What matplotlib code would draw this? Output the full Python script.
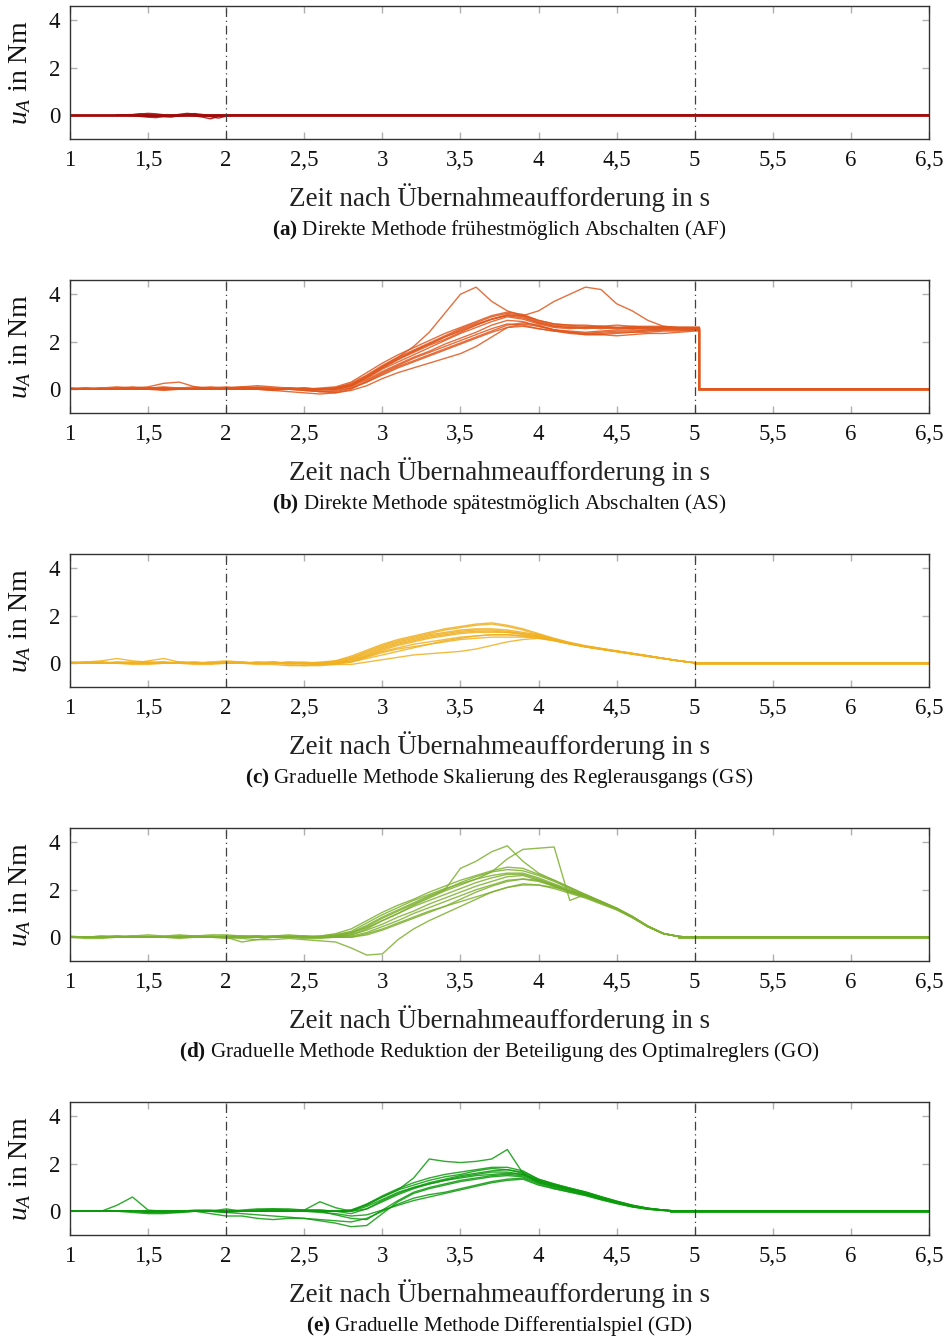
import numpy as np
import matplotlib
matplotlib.use("Agg")
import matplotlib.pyplot as plt
from matplotlib.ticker import FuncFormatter

plt.rcParams['font.family'] = ['Liberation Serif', 'DejaVu Serif']
plt.rcParams['mathtext.fontset'] = 'custom'
plt.rcParams['mathtext.rm'] = 'Liberation Serif'
plt.rcParams['mathtext.it'] = 'Liberation Serif:italic'
plt.rcParams['mathtext.bf'] = 'Liberation Serif:bold'

# time grid of the sampled runs (s)
t_grid = np.round(np.arange(1.0, 5.01, 0.1), 2)
t_af = np.round(np.arange(1.30, 2.051, 0.05), 2)
t_end = 6.5
t_markers = [2.0, 5.0]  # takeover request window

captions = [
    r"$\mathbf{(a)}$ Direkte Methode frühestmöglich Abschalten (AF)",
    r"$\mathbf{(b)}$ Direkte Methode spätestmöglich Abschalten (AS)",
    r"$\mathbf{(c)}$ Graduelle Methode Skalierung des Reglerausgangs (GS)",
    r"$\mathbf{(d)}$ Graduelle Methode Reduktion der Beteiligung des Optimalreglers (GO)",
    r"$\mathbf{(e)}$ Graduelle Methode Differentialspiel (GD)",
]
colors = ['#A00A0A', '#E0561C', '#F0B020', '#7DB02E', '#0A9A0A']
t_off = [2.05, 5.03, 5.0, 5.0, 5.0]
zero_from = [1.0, 5.03, 5.0, 4.9, 4.85]

# (a) AF
runs_af = [
    [0, 0, 0.02, 0.05, 0.08, 0.06, 0.02, 0, 0.02, 0.05, 0.07, 0.03, 0, 0.02, 0, 0],
    [0, 0, -0.02, -0.05, -0.08, -0.1, -0.05, -0.06, -0.03, 0, 0.03, 0.0, -0.06, -0.12, -0.04, 0],
    [0, 0.02, 0.03, 0.06, 0.03, -0.02, -0.04, -0.02, 0.04, 0.08, 0.05, -0.02, -0.05, -0.02, 0, 0],
    [0, 0, 0, -0.03, -0.05, -0.04, -0.06, -0.07, -0.02, 0.02, -0.03, -0.08, -0.15, -0.05, 0, 0],
]

# (b) AS
runs_as = [
    [0.0, 0.0, 0.05, 0.1, 0.05, 0.0, 0.05, 0.0, 0.05, 0.1,
     0.05, 0.05, 0.0, 0.0, 0.05, 0.0, 0.0, 0.0, 0.15, 0.45,
     0.85, 1.15, 1.45, 1.75, 2.05, 2.35, 2.6, 2.85, 3.05, 2.95,
     2.75, 2.6, 2.55, 2.6, 2.55, 2.6, 2.55, 2.6, 2.6, 2.55, 2.55],
    [0.05, 0.0, 0.0, 0.05, 0.1, 0.05, 0.0, 0.05, 0.1, 0.05,
     0.0, 0.05, 0.1, 0.05, 0.0, 0.05, 0.0, 0.05, 0.25, 0.6,
     1.0, 1.35, 1.65, 1.95, 2.25, 2.55, 2.8, 3.05, 3.2, 3.1,
     2.85, 2.7, 2.65, 2.6, 2.65, 2.6, 2.65, 2.6, 2.6, 2.6, 2.6],
    [0.0, 0.05, 0.0, 0.0, 0.05, 0.0, 0.0, 0.0, 0.05, 0.0,
     0.05, 0.0, 0.0, -0.05, 0.0, -0.05, -0.1, -0.05, 0.05, 0.3,
     0.65, 0.95, 1.2, 1.45, 1.7, 1.95, 2.2, 2.45, 2.7, 2.8,
     2.7, 2.5, 2.4, 2.35, 2.35, 2.4, 2.4, 2.45, 2.5, 2.5, 2.5],
    [0.0, 0.0, 0.05, 0.0, 0.0, 0.05, 0.0, 0.05, 0.0, 0.05,
     0.1, 0.05, 0.0, 0.0, 0.05, 0.0, 0.0, 0.05, 0.2, 0.55,
     0.95, 1.35, 1.8, 2.4, 3.2, 4.0, 4.3, 3.7, 3.3, 3.1,
     2.9, 2.75, 2.7, 2.65, 2.65, 2.6, 2.6, 2.55, 2.6, 2.55, 2.55],
    [0.0, 0.0, 0.0, 0.05, 0.0, 0.0, 0.05, 0.0, 0.0, 0.0,
     0.05, 0.0, 0.05, 0.0, 0.0, 0.05, 0.0, 0.0, 0.15, 0.5,
     0.9, 1.25, 1.6, 1.9, 2.2, 2.5, 2.75, 2.95, 3.1, 3.1,
     3.3, 3.7, 4.0, 4.3, 4.2, 3.6, 3.3, 2.9, 2.65, 2.6, 2.6],
    [0.0, 0.0, 0.0, 0.05, 0.0, 0.0, -0.05, 0.0, 0.0, 0.05,
     0.0, 0.0, 0.0, -0.05, -0.1, -0.15, -0.2, -0.15, -0.05, 0.15,
     0.45, 0.7, 0.9, 1.1, 1.3, 1.5, 1.8, 2.2, 2.6, 2.75,
     2.65, 2.5, 2.4, 2.3, 2.3, 2.35, 2.4, 2.4, 2.45, 2.45, 2.5],
    [0.0, 0.05, 0.05, 0.0, 0.05, 0.1, 0.25, 0.3, 0.1, 0.0,
     0.05, 0.1, 0.05, 0.0, 0.05, 0.05, 0.0, 0.05, 0.15, 0.5,
     0.9, 1.25, 1.55, 1.85, 2.1, 2.4, 2.7, 2.95, 3.1, 3.0,
     2.8, 2.65, 2.6, 2.55, 2.6, 2.6, 2.55, 2.6, 2.55, 2.6, 2.6],
    [0.0, 0.0, 0.0, 0.0, 0.05, 0.0, 0.05, 0.0, 0.0, 0.05,
     0.0, 0.0, 0.05, 0.0, 0.0, 0.0, -0.05, 0.0, 0.1, 0.4,
     0.75, 1.05, 1.35, 1.6, 1.9, 2.15, 2.4, 2.7, 2.9, 2.85,
     2.65, 2.5, 2.45, 2.4, 2.45, 2.5, 2.5, 2.5, 2.55, 2.55, 2.55],
    [0.05, 0.05, 0.0, 0.0, 0.0, 0.05, 0.1, 0.05, 0.0, 0.0,
     0.05, 0.1, 0.15, 0.1, 0.05, 0.0, 0.05, 0.1, 0.3, 0.7,
     1.1, 1.45, 1.75, 2.05, 2.35, 2.6, 2.85, 3.1, 3.25, 3.15,
     2.9, 2.75, 2.7, 2.7, 2.65, 2.7, 2.65, 2.65, 2.65, 2.6, 2.6],
    [0.0, 0.0, 0.0, 0.0, 0.0, 0.0, 0.0, 0.0, 0.0, 0.0,
     0.0, 0.0, 0.0, 0.0, 0.0, 0.0, -0.1, -0.15, 0.0, 0.35,
     0.7, 1.0, 1.3, 1.55, 1.8, 2.05, 2.3, 2.55, 2.75, 2.7,
     2.55, 2.45, 2.35, 2.3, 2.3, 2.25, 2.3, 2.35, 2.35, 2.4, 2.45],
    [0.0, 0.0, 0.0, 0.0, 0.0, 0.05, 0.05, 0.0, 0.0, 0.0,
     0.0, 0.05, 0.05, 0.05, 0.0, 0.0, 0.0, 0.05, 0.2, 0.55,
     0.95, 1.3, 1.6, 1.9, 2.2, 2.45, 2.7, 2.95, 3.15, 3.05,
     2.8, 2.65, 2.6, 2.6, 2.6, 2.55, 2.6, 2.6, 2.6, 2.6, 2.6],
    [0.0, 0.0, 0.0, 0.0, 0.0, 0.0, 0.0, 0.0, 0.0, 0.0,
     0.0, 0.0, 0.0, 0.0, 0.0, -0.05, -0.1, -0.1, 0.05, 0.3,
     0.6, 0.9, 1.15, 1.4, 1.65, 1.9, 2.15, 2.4, 2.6, 2.65,
     2.55, 2.45, 2.4, 2.35, 2.4, 2.45, 2.45, 2.5, 2.5, 2.5, 2.5],
]

# (c) GS
runs_gs = [
    [0.0, 0.05, 0.0, 0.05, 0.0, 0.0, 0.05, 0.0, 0.0, 0.05,
     0.0, 0.0, 0.05, 0.0, 0.0, 0.0, 0.0, 0.05, 0.15, 0.35,
     0.6, 0.8, 0.95, 1.1, 1.2, 1.3, 1.35, 1.35, 1.3, 1.25,
     1.15, 0.98, 0.83, 0.7, 0.6, 0.5, 0.4, 0.3, 0.2, 0.1, 0.02],
    [0.05, 0.05, 0.1, 0.2, 0.1, 0.05, 0.0, 0.05, 0.0, 0.0,
     0.05, 0.05, 0.0, 0.05, 0.0, 0.0, 0.05, 0.1, 0.25, 0.5,
     0.75, 0.95, 1.1, 1.25, 1.4, 1.5, 1.6, 1.65, 1.55, 1.4,
     1.2, 1.0, 0.85, 0.7, 0.6, 0.5, 0.4, 0.3, 0.2, 0.1, 0.02],
    [0.0, 0.0, 0.0, 0.0, -0.05, -0.05, 0.0, 0.0, -0.05, -0.05,
     0.0, 0.0, -0.05, -0.05, -0.1, -0.1, -0.05, -0.05, -0.05, 0.05,
     0.15, 0.25, 0.35, 0.4, 0.45, 0.5, 0.6, 0.75, 0.9, 1.0,
     1.05, 0.95, 0.82, 0.7, 0.6, 0.5, 0.4, 0.3, 0.2, 0.1, 0.02],
    [0.0, 0.0, 0.05, 0.0, 0.0, 0.1, 0.2, 0.05, 0.0, 0.0,
     0.05, 0.0, 0.0, 0.0, 0.05, 0.0, -0.05, 0.0, 0.1, 0.3,
     0.5, 0.65, 0.8, 0.9, 1.0, 1.1, 1.15, 1.2, 1.2, 1.15,
     1.1, 0.97, 0.82, 0.7, 0.6, 0.5, 0.4, 0.3, 0.2, 0.1, 0.02],
    [0.05, 0.0, 0.0, 0.0, 0.05, 0.0, 0.0, 0.0, 0.05, 0.0,
     0.0, 0.05, 0.0, 0.0, 0.0, -0.05, -0.05, 0.0, 0.2, 0.45,
     0.7, 0.9, 1.05, 1.2, 1.3, 1.4, 1.45, 1.45, 1.4, 1.3,
     1.2, 1.02, 0.85, 0.72, 0.62, 0.52, 0.42, 0.31, 0.21, 0.11, 0.02],
    [0.0, 0.0, 0.0, 0.05, 0.05, 0.0, 0.0, 0.05, 0.05, 0.0,
     0.0, 0.0, 0.05, 0.05, 0.0, 0.0, 0.0, 0.0, 0.05, 0.2,
     0.35, 0.5, 0.65, 0.8, 0.95, 1.05, 1.15, 1.2, 1.2, 1.15,
     1.1, 0.98, 0.84, 0.71, 0.6, 0.5, 0.4, 0.3, 0.2, 0.1, 0.02],
    [0.0, 0.05, 0.05, 0.0, 0.0, 0.05, 0.05, 0.0, 0.0, 0.05,
     0.1, 0.05, 0.0, 0.0, 0.05, 0.05, 0.0, 0.1, 0.3, 0.55,
     0.8, 1.0, 1.15, 1.3, 1.45, 1.55, 1.65, 1.7, 1.6, 1.45,
     1.25, 1.05, 0.88, 0.74, 0.63, 0.52, 0.42, 0.32, 0.21, 0.1, 0.02],
    [0.0, 0.0, 0.0, 0.0, 0.0, 0.0, 0.0, 0.0, 0.0, 0.0,
     0.0, 0.0, 0.0, 0.0, -0.05, -0.1, -0.1, -0.05, 0.05, 0.25,
     0.45, 0.6, 0.7, 0.8, 0.9, 1.0, 1.05, 1.1, 1.1, 1.1,
     1.05, 0.95, 0.8, 0.68, 0.58, 0.48, 0.38, 0.28, 0.19, 0.09, 0.02],
    [0.0, 0.0, 0.05, 0.0, 0.0, 0.0, 0.05, 0.0, 0.0, 0.0,
     0.05, 0.0, 0.0, 0.05, 0.0, 0.0, 0.0, 0.05, 0.2, 0.4,
     0.65, 0.85, 1.0, 1.15, 1.25, 1.35, 1.4, 1.4, 1.35, 1.25,
     1.15, 0.99, 0.84, 0.71, 0.61, 0.51, 0.41, 0.31, 0.2, 0.1, 0.02],
    [0.0, 0.0, 0.0, 0.0, 0.0, 0.0, 0.0, 0.0, 0.0, 0.0,
     0.0, 0.0, 0.0, 0.0, 0.0, 0.0, 0.0, 0.0, 0.1, 0.3,
     0.55, 0.75, 0.9, 1.05, 1.15, 1.25, 1.3, 1.3, 1.3, 1.2,
     1.1, 0.97, 0.83, 0.7, 0.6, 0.5, 0.4, 0.3, 0.2, 0.1, 0.02],
]

# (d) GO
runs_go = [
    [0.0, 0.0, 0.0, 0.05, 0.0, 0.0, 0.0, 0.05, 0.05, 0.0,
     0.05, 0.05, 0.0, 0.0, 0.0, 0.0, 0.0, 0.05, 0.1, 0.3,
     0.55, 0.85, 1.1, 1.4, 1.65, 1.9, 2.15, 2.35, 2.55, 2.6,
     2.4, 2.15, 1.9, 1.7, 1.45, 1.2, 0.85, 0.45, 0.15, 0.03, 0.0],
    [0.0, 0.0, 0.0, 0.0, 0.05, 0.0, 0.0, 0.0, 0.05, 0.1,
     0.1, 0.05, 0.05, 0.0, 0.05, 0.05, 0.05, 0.1, 0.2, 0.5,
     0.85, 1.15, 1.45, 1.75, 2.0, 2.3, 2.55, 2.75, 2.85, 2.8,
     2.6, 2.35, 2.05, 1.75, 1.5, 1.22, 0.87, 0.47, 0.16, 0.03, 0.0],
    [0.0, 0.0, 0.0, 0.0, 0.0, 0.0, 0.0, 0.0, 0.0, 0.0,
     0.0, -0.05, -0.1, -0.1, -0.05, -0.1, -0.15, -0.2, -0.45, -0.75,
     -0.7, -0.1, 0.35, 0.7, 1.0, 1.3, 1.6, 1.9, 2.1, 2.25,
     2.2, 2.05, 1.85, 1.65, 1.4, 1.15, 0.82, 0.44, 0.15, 0.03, 0.0],
    [0.0, 0.0, 0.05, 0.05, 0.0, 0.0, 0.0, 0.05, 0.0, 0.0,
     0.0, 0.05, 0.05, 0.0, 0.0, 0.05, 0.0, 0.05, 0.15, 0.45,
     0.8, 1.1, 1.4, 1.7, 2.0, 2.9, 3.2, 3.6, 3.85, 3.2,
     2.7, 2.4, 2.1, 1.8, 1.5, 1.2, 0.85, 0.45, 0.15, 0.03, 0.0],
    [0.0, 0.0, 0.0, 0.0, 0.0, 0.05, 0.0, 0.0, 0.0, 0.05,
     0.0, 0.0, 0.05, 0.05, 0.0, 0.0, 0.0, 0.0, 0.1, 0.35,
     0.7, 1.0, 1.35, 1.65, 1.95, 2.2, 2.45, 2.75, 3.3, 3.7,
     3.75, 3.8, 1.55, 1.8, 1.5, 1.22, 0.88, 0.47, 0.16, 0.03, 0.0],
    [0.0, -0.05, -0.05, 0.0, 0.0, 0.0, 0.0, 0.0, 0.05, 0.0,
     -0.05, 0.0, 0.0, 0.0, 0.0, -0.05, -0.05, 0.0, 0.0, 0.15,
     0.35, 0.6, 0.85, 1.1, 1.3, 1.5, 1.7, 1.9, 2.1, 2.2,
     2.2, 2.1, 1.95, 1.75, 1.5, 1.2, 0.85, 0.45, 0.15, 0.03, 0.0],
    [0.0, 0.0, 0.0, 0.0, 0.0, 0.0, 0.05, 0.1, 0.05, 0.0,
     0.0, 0.0, 0.0, 0.05, 0.1, 0.05, 0.0, 0.1, 0.25, 0.6,
     0.95, 1.25, 1.55, 1.8, 2.05, 2.25, 2.45, 2.6, 2.7, 2.7,
     2.5, 2.25, 2.0, 1.75, 1.48, 1.2, 0.86, 0.46, 0.15, 0.03, 0.0],
    [0.0, 0.0, 0.0, 0.05, 0.05, 0.0, 0.0, -0.05, 0.0, 0.0,
     0.0, -0.2, -0.1, 0.0, 0.0, 0.0, 0.0, 0.0, 0.05, 0.2,
     0.45, 0.7, 1.0, 1.25, 1.5, 1.75, 2.0, 2.2, 2.4, 2.45,
     2.35, 2.15, 1.9, 1.7, 1.45, 1.18, 0.84, 0.45, 0.15, 0.03, 0.0],
    [0.0, 0.0, 0.05, 0.0, 0.0, 0.0, 0.0, 0.0, 0.0, 0.05,
     0.05, 0.0, 0.0, 0.05, 0.05, 0.0, 0.0, 0.05, 0.2, 0.4,
     0.7, 1.0, 1.3, 1.55, 1.8, 2.05, 2.3, 2.5, 2.65, 2.65,
     2.45, 2.2, 1.95, 1.72, 1.47, 1.2, 0.85, 0.45, 0.15, 0.03, 0.0],
    [0.05, 0.0, 0.0, 0.0, 0.05, 0.1, 0.05, 0.0, 0.0, 0.0,
     0.0, 0.0, 0.05, 0.0, 0.0, 0.0, 0.0, 0.0, 0.0, 0.1,
     0.3, 0.55, 0.8, 1.05, 1.3, 1.6, 1.9, 2.15, 2.35, 2.45,
     2.4, 2.2, 1.95, 1.72, 1.46, 1.19, 0.85, 0.45, 0.15, 0.03, 0.0],
    [0.0, 0.0, 0.0, 0.0, 0.0, 0.0, 0.0, 0.0, 0.0, 0.0,
     0.0, 0.0, 0.0, 0.0, 0.0, 0.0, 0.05, 0.15, 0.35, 0.7,
     1.05, 1.35, 1.6, 1.9, 2.15, 2.4, 2.6, 2.8, 2.95, 2.9,
     2.65, 2.4, 2.1, 1.8, 1.52, 1.23, 0.88, 0.47, 0.16, 0.03, 0.0],
]

# (e) GD
runs_gd = [
    [0.0, 0.0, 0.0, 0.0, 0.0, 0.0, -0.05, -0.05, 0.0, 0.0,
     0.0, 0.0, 0.05, 0.1, 0.1, 0.05, 0.05, 0.0, 0.0, 0.2,
     0.5, 0.8, 1.0, 1.15, 1.3, 1.45, 1.55, 1.65, 1.65, 1.55,
     1.25, 1.05, 0.9, 0.75, 0.55, 0.38, 0.22, 0.11, 0.04, 0.0, 0.0],
    [0.0, 0.0, 0.0, 0.25, 0.6, 0.05, 0.0, 0.0, 0.0, 0.0,
     0.0, 0.0, 0.0, 0.0, 0.0, 0.0, 0.0, 0.0, 0.05, 0.3,
     0.6, 0.9, 1.1, 1.3, 1.45, 1.55, 1.7, 1.8, 1.75, 1.6,
     1.3, 1.1, 0.95, 0.8, 0.6, 0.42, 0.25, 0.13, 0.05, 0.0, 0.0],
    [0.0, 0.0, 0.0, 0.0, -0.05, -0.1, -0.1, -0.05, 0.0, 0.0,
     -0.05, -0.1, -0.15, -0.2, -0.25, -0.3, -0.4, -0.5, -0.65, -0.6,
     -0.1, 0.4, 0.75, 0.95, 1.1, 1.25, 1.35, 1.45, 1.5, 1.45,
     1.2, 1.0, 0.85, 0.7, 0.52, 0.35, 0.2, 0.1, 0.04, 0.0, 0.0],
    [0.0, 0.0, 0.0, 0.0, 0.0, 0.0, 0.0, 0.0, 0.0, 0.0,
     0.0, 0.0, 0.0, 0.05, 0.05, 0.0, 0.0, 0.0, 0.05, 0.25,
     0.6, 0.9, 1.4, 2.2, 2.1, 2.05, 2.1, 2.2, 2.6, 1.6,
     1.2, 1.05, 0.92, 0.78, 0.58, 0.4, 0.24, 0.12, 0.05, 0.0, 0.0],
    [0.0, 0.0, 0.0, 0.0, 0.0, 0.0, 0.0, 0.0, 0.0, 0.0,
     0.1, 0.0, 0.0, 0.0, 0.0, 0.05, 0.4, 0.15, 0.0, 0.1,
     0.4, 0.7, 0.95, 1.15, 1.3, 1.4, 1.5, 1.55, 1.6, 1.55,
     1.3, 1.1, 0.92, 0.76, 0.56, 0.38, 0.22, 0.11, 0.04, 0.0, 0.0],
    [0.0, 0.0, 0.0, 0.0, 0.0, -0.05, -0.05, 0.0, 0.0, -0.1,
     -0.2, -0.2, -0.3, -0.35, -0.3, -0.3, -0.35, -0.4, -0.45, -0.3,
     0.0, 0.3, 0.55, 0.7, 0.8, 0.95, 1.1, 1.25, 1.35, 1.4,
     1.15, 0.95, 0.82, 0.68, 0.5, 0.34, 0.19, 0.09, 0.03, 0.0, 0.0],
    [0.0, 0.0, 0.0, 0.0, 0.0, 0.0, 0.0, 0.0, 0.05, 0.05,
     0.0, 0.0, 0.05, 0.05, 0.0, 0.0, 0.0, 0.0, -0.1, 0.1,
     0.45, 0.75, 1.0, 1.2, 1.35, 1.5, 1.6, 1.7, 1.75, 1.65,
     1.35, 1.15, 0.97, 0.8, 0.6, 0.4, 0.24, 0.12, 0.05, 0.0, 0.0],
    [0.0, 0.0, 0.0, 0.0, 0.0, -0.05, 0.0, 0.0, 0.0, 0.0,
     -0.05, 0.0, 0.0, 0.0, 0.0, 0.0, 0.0, -0.15, -0.3, -0.35,
     0.05, 0.45, 0.8, 1.0, 1.15, 1.3, 1.4, 1.5, 1.55, 1.5,
     1.25, 1.05, 0.88, 0.72, 0.53, 0.36, 0.2, 0.1, 0.04, 0.0, 0.0],
    [0.0, 0.0, 0.0, 0.0, 0.0, 0.0, 0.0, 0.0, 0.0, 0.0,
     0.0, 0.0, 0.0, 0.0, 0.0, 0.0, -0.05, -0.1, -0.2, -0.15,
     0.05, 0.25, 0.45, 0.6, 0.75, 0.9, 1.05, 1.2, 1.3, 1.35,
     1.1, 0.95, 0.8, 0.66, 0.48, 0.32, 0.18, 0.08, 0.03, 0.0, 0.0],
    [0.0, 0.0, 0.0, 0.0, 0.0, 0.0, 0.0, 0.0, 0.0, 0.0,
     0.0, 0.05, 0.1, 0.1, 0.05, 0.05, 0.05, 0.0, 0.0, 0.3,
     0.65, 0.95, 1.2, 1.4, 1.55, 1.65, 1.75, 1.85, 1.85, 1.7,
     1.35, 1.15, 0.98, 0.82, 0.62, 0.43, 0.26, 0.13, 0.05, 0.0, 0.0],
]

panels = [(t_af, runs_af), (t_grid, runs_as), (t_grid, runs_gs), (t_grid, runs_go), (t_grid, runs_gd)]

x_ticks = np.arange(1.0, 6.51, 0.5)
y_ticks = [0, 2, 4]


def comma(x, pos):
    s = f"{x:g}"
    return s.replace('.', ',')


fig = plt.figure(figsize=(9.5, 13.4), dpi=100)
ax_left, ax_w, ax_h = 70 / 950, 859 / 950, 133 / 1340
bottoms_px = [139, 413, 687, 961, 1235]

for i, (t, runs) in enumerate(panels):
    ax = fig.add_axes([ax_left, 1 - bottoms_px[i] / 1340, ax_w, ax_h])
    col = colors[i]
    for u in runs:
        u = np.asarray(u, dtype=float)
        x = np.r_[t, t_off[i], t_off[i], t_end]
        y = np.r_[u, u[-1], 0, 0]
        ax.plot(x, y, color=col, lw=1.0, alpha=0.85)
    ax.plot([zero_from[i], t_end], [0, 0], color=col, lw=2.0)
    for tm in t_markers:
        ax.axvline(tm, color='#404040', lw=0.9, ls=(0, (7, 3, 1, 3)))

    ax.set_xlim(1, 6.5)
    ax.set_ylim(-1, 4.6)
    ax.set_xticks(x_ticks)
    ax.set_yticks(y_ticks)
    ax.xaxis.set_major_formatter(FuncFormatter(comma))
    ax.tick_params(direction='in', top=True, right=True, length=5, width=1,
                   color='#b0b0b0', labelsize=16.5, labelcolor='#111111')
    ax.tick_params(axis='x', pad=8)
    ax.tick_params(axis='y', pad=7)
    for sp in ax.spines.values():
        sp.set_color('#333333')
        sp.set_linewidth(1.0)

    ax.text(-50 / 859, 0.5, r"$u_A$ in Nm", transform=ax.transAxes, rotation=90,
            ha='center', va='center', fontsize=20, color='#111111')
    ax.text(0.5, -59 / 133, "Zeit nach Übernahmeaufforderung in s", transform=ax.transAxes,
            ha='center', va='center', fontsize=19.5, color='#222222')
    ax.text(0.5, -91 / 133, captions[i], transform=ax.transAxes,
            ha='center', va='center', fontsize=15.2, color='#111111')

fig.savefig('out.png', dpi=100)
